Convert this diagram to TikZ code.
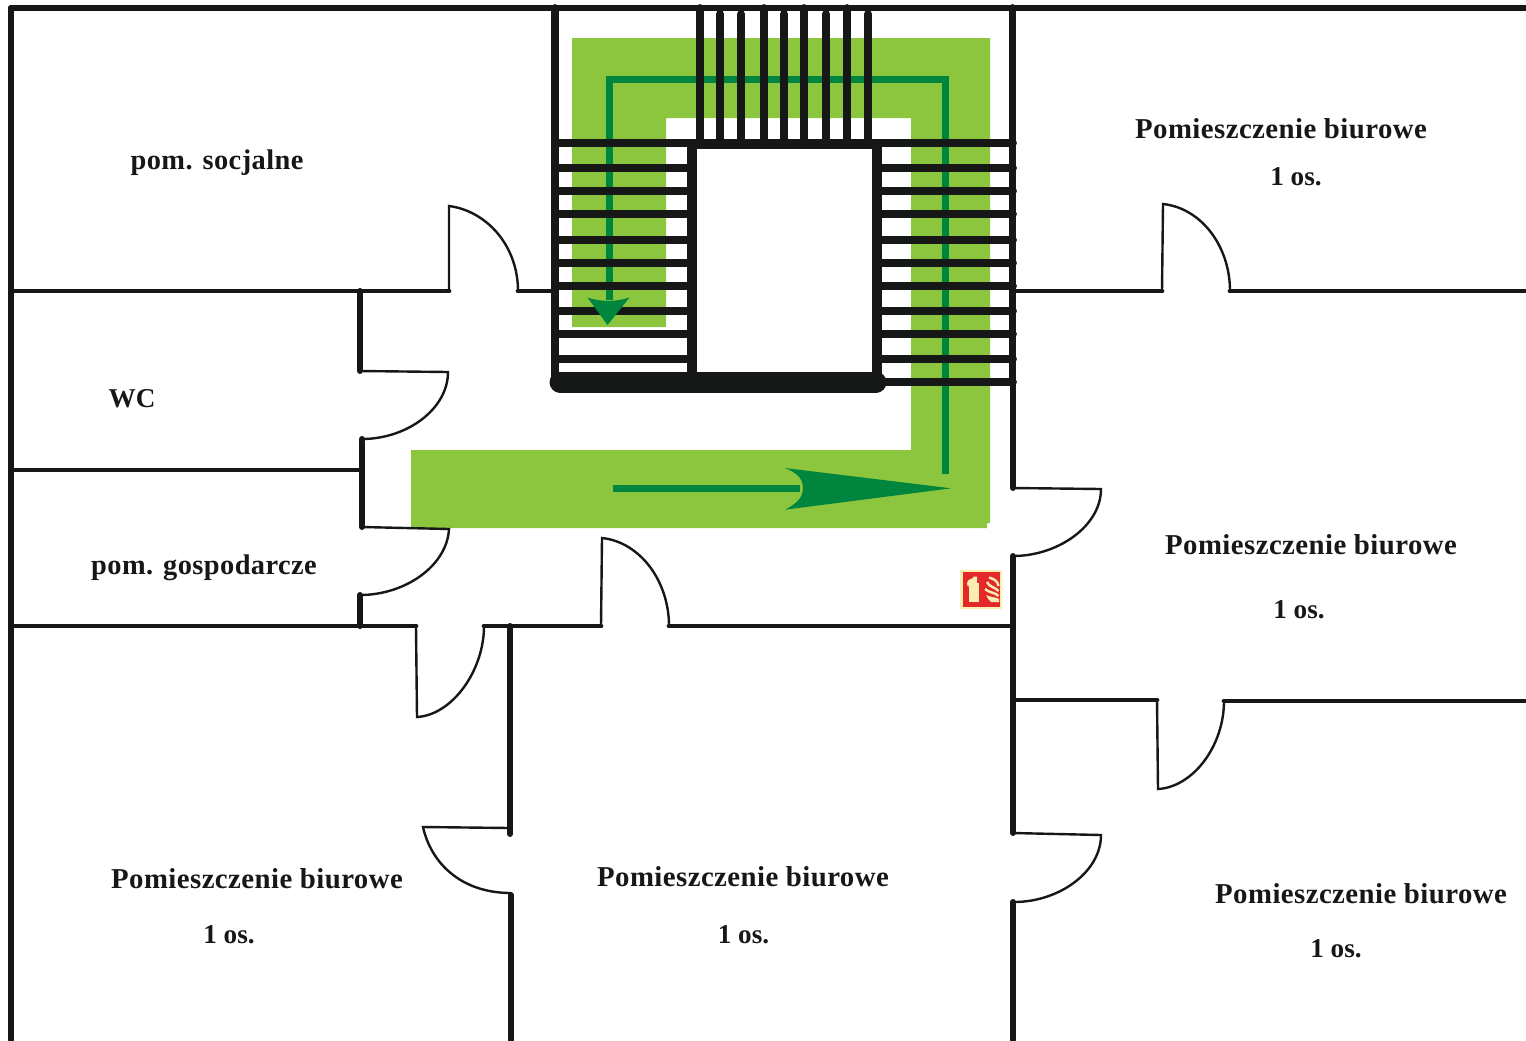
\documentclass[tikz,border=0pt]{standalone}
\usepackage{fontspec}
\setmainfont{Liberation Serif}
\newfontfamily\roomfont[LetterSpace=1.5]{Liberation Serif}
\definecolor{wallblack}{HTML}{161817}
\definecolor{routelight}{HTML}{8CC63F}
\definecolor{routedark}{HTML}{00853E}
\definecolor{signred}{HTML}{E2282A}
\definecolor{signpale}{HTML}{F9EDB0}
\tikzset{
    wall/.style = {
        draw = wallblack,
        line width = 2.4pt,
        line cap = round,
        },
    thick wall/.style = {
        draw = wallblack,
        line width = 3pt,
        line cap = round,
        },
    tread/.style = {
        draw = wallblack,
        line width = 3.9pt,
        line cap = round,
        },
    stair frame/.style = {
        draw = wallblack,
        line width = 5pt,
        },
    leaf/.style = {
        draw = wallblack,
        line width = 1.2pt,
        },
    route/.style = {
        fill = routelight,
        },
    route line/.style = {
        draw = routedark,
        line width = 3.5pt,
        },
    route head/.style = {
        fill = routedark,
        },
    flame/.style = {
        draw = signpale,
        line width = 1.2pt,
        },
    room/.style = {
        font = \roomfont\fontsize{14.2}{16}\selectfont\bfseries,
        text = wallblack,
        },
    office/.style = {
        font = \roomfont\fontsize{14.4}{16}\selectfont\bfseries,
        text = wallblack,
        },
    room short/.style = {
        font = \fontsize{13.6}{16}\selectfont\bfseries,
        text = wallblack,
        },
}

\begin{document}
\begin{tikzpicture}[x=0.5pt,y=-0.5pt]
    \useasboundingbox (0,0) rectangle (1526,1040);

    % escape route
    \path[route] (572,38) -- (990,38) -- (990,523) -- (987,523) -- (987,528) -- (411,528) -- (411,450)
        -- (911,450) -- (911,118) -- (666,118) -- (666,327) -- (572,327) -- cycle;

    % outer walls and rooms
    \draw[thick wall] (1526,8) -- (11,8);
    \draw[thick wall] (11,8) -- (11,1040);
    \draw[wall] (11,291) -- (449,291);
    \draw[wall] (518,291) -- (553,291);
    \draw[wall] (11,470) -- (362,470);
    \draw[wall] (11,626) -- (416,626);
    \draw[wall] (484,626) -- (601,626);
    \draw[wall] (669,626) -- (1013,626);
    \draw[wall] (1016,291) -- (1162,291);
    \draw[wall] (1230,291) -- (1526,291);
    \draw[wall] (1013,700) -- (1157,700);
    \draw[wall] (1224,701) -- (1526,701);
    \draw[thick wall] (360,291) -- (360,371);
    \draw[thick wall] (362,439) -- (362,527);
    \draw[thick wall] (360,595) -- (360,626);
    \draw[thick wall] (510,626) -- (510,834);
    \draw[thick wall] (511,895) -- (511,1040);
    \draw[thick wall] (1013,385) -- (1013,488);
    \draw[thick wall] (1013,556) -- (1013,833);
    \draw[thick wall] (1013,902) -- (1013,1040);

    % doors
    \draw[leaf] (449,291) -- (449,206) .. controls +(38,5) and +(0,-45) .. (518,291);
    \draw[leaf] (360,371) -- (448,372) .. controls +(0,37) and +(45,0) .. (362,439);
    \draw[leaf] (362,527) -- (449,529) .. controls +(-2,37) and +(45,0) .. (360,595);
    \draw[leaf] (416,626) -- (417,717) .. controls +(35,-2) and +(0,45) .. (484,626);
    \draw[leaf] (601,626) -- (602,538) .. controls +(38,4) and +(0,-45) .. (669,626);
    \draw[leaf] (510,828) -- (423,827) .. controls +(8,36) and +(-50,0) .. (511,893);
    \draw[leaf] (1013,488) -- (1101,489) .. controls +(0,37) and +(45,0) .. (1013,556);
    \draw[leaf] (1013,833) -- (1101,835) .. controls +(0,37) and +(45,0) .. (1014,902);
    \draw[leaf] (1157,700) -- (1158,789) .. controls +(35,-2) and +(0,45) .. (1224,701);
    \draw[leaf] (1162,291) -- (1163,204) .. controls +(38,4) and +(0,-45) .. (1230,291);

    % staircase
    \draw[route line] (609,300) -- (609,79) -- (945,79) -- (945,474);
    \foreach \y in {143,168,191,214,240,263,286,311,334,359} {
        \draw[tread] (555,\y) -- (690,\y);
        \draw[tread] (880,\y) -- (1013,\y);
    }
    \draw[tread] (880,382) -- (1013,382);
    \foreach \x in {700,764,804,847} {
        \draw[tread] (\x,8) -- (\x,143);
    }
    \foreach \x in {720,741,784,826,868} {
        \draw[tread] (\x,14) -- (\x,143);
    }
    \draw[tread] (555,8) -- (555,382);
    \draw[tread] (1012.5,8) -- (1012.5,382);
    \draw[stair frame] (691.5,382) -- (691.5,144) -- (876.5,144) -- (876.5,382);
    \draw[draw=wallblack,line width=10.5pt,line cap=round] (560,382) -- (876,382);

    % route arrow heads
    \path[route head] (587.5,297.5) .. controls (600,302) and (616,302) .. (629.5,297.5) -- (607.5,325) -- cycle;
    \draw[route line] (613,488) -- (800,488);
    \path[route head] (785,468) -- (951,488.3) -- (785,509.7) .. controls (800,502) and (803,495) .. (803,488)
        .. controls (803,481) and (800,474) .. (785,468) -- cycle;

    % fire extinguisher sign
    \path[fill=signpale] (960,570) rectangle (1001.7,608.7);
    \path[fill=signred] (962.5,572) rectangle (999.7,606.5);
    \path[fill=signpale] (969,583) rectangle (979,602);
    \path[fill=signpale] (967,584) .. controls (967,580) and (970,579) .. (973,578) -- (973,576.5) -- (977,576.5)
        -- (977,583) -- (970,583) -- (968,587) -- cycle;
    \draw[flame] (989,577.5) .. controls (995,579) and (998,582) .. (998.5,586);
    \draw[flame] (987,582) .. controls (989,587) and (995,587) .. (998.5,591);
    \draw[flame] (985,589) .. controls (989,593) and (995,592) .. (998.5,596);
    \path[fill=signpale] (986,595) .. controls (990,597) and (995,597) .. (999,599) -- (999,602) -- (991,602)
        .. controls (989,600) and (987,598) .. (986,595) -- cycle;

    % room labels
    \node[room] (social) at (217,163) {pom. socjalne};
    \node[room short] (wc) at (132,399) {WC};
    \node[room] (utility) at (204,568) {pom. gospodarcze};
    \node[office] (officeA) at (1281,129) {Pomieszczenie biurowe};
    \node[room short] (seatsA) at (1296,177) {1 os.};
    \node[office] (officeB) at (1311,545) {Pomieszczenie biurowe};
    \node[room short] (seatsB) at (1299,610) {1 os.};
    \node[office] (officeC) at (257,879) {Pomieszczenie biurowe};
    \node[room short] (seatsC) at (229,935) {1 os.};
    \node[office] (officeD) at (743,877) {Pomieszczenie biurowe};
    \node[room short] (seatsD) at (743.5,935) {1 os.};
    \node[office] (officeE) at (1361,894) {Pomieszczenie biurowe};
    \node[room short] (seatsE) at (1336,949) {1 os.};
\end{tikzpicture}
\end{document}
